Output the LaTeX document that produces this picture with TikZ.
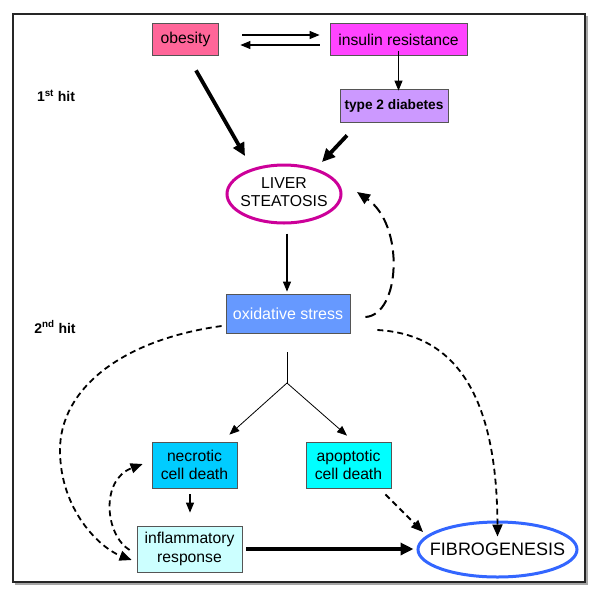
\documentclass[tikz,border=0pt]{standalone}
\usepackage{fontspec}
\setmainfont{Liberation Sans}
\usetikzlibrary{arrows.meta,shapes.geometric,calc}
\definecolor{obcol}{HTML}{FF6699}
\definecolor{incol}{HTML}{FF44FF}
\definecolor{t2col}{HTML}{CC99FF}
\definecolor{lvcol}{HTML}{CC0099}
\definecolor{oxcol}{HTML}{6699FF}
\definecolor{necol}{HTML}{00CCFF}
\definecolor{apcol}{HTML}{00FFFF}
\definecolor{imcol}{HTML}{CCFFFF}
\definecolor{fbcol}{HTML}{3366FF}
\definecolor{bordcol}{HTML}{555555}
\tikzset{
  box/.style={rectangle, draw=bordcol, line width=0.8pt, inner sep=0pt, align=center,
              font=\fontsize{15.7}{18.5}\selectfont},
  oval/.style={ellipse, line width=3pt, inner sep=0pt},
  thinarrow/.style={line width=1.1pt, -{Triangle[length=10pt,width=8pt]}},
  thickarrow/.style={line width=3.8pt, -{Triangle[length=13pt,width=12pt]}},
  dasharrow/.style={line width=1.8pt, dash pattern=on 6pt off 4pt, -{Triangle[length=12pt,width=10pt]}},
  longdash/.style={line width=2pt, dash pattern=on 11pt off 6pt, -{Triangle[length=13pt,width=11pt]}},
  hitlabel/.style={font=\bfseries\fontsize{14}{16}\selectfont, inner sep=0pt}
}
\begin{document}
\begin{tikzpicture}[x=1pt,y=-1pt]
\useasboundingbox (0,0) rectangle (600,590);
% frame
\draw[line width=2pt, black!35] (15,583.5) -- (587,583.5) -- (587,16);
\draw[line width=1.4pt, black!85] (13,14) rectangle (585,582);

% nodes
\node[box, fill=obcol, minimum width=66pt, minimum height=32pt] (obesity) at (185.5,39.5) {obesity};
\node[box, fill=incol, minimum width=137pt, minimum height=32pt] (insulin) at (398.5,39.5) {insulin resistance};
\node[box, fill=t2col, minimum width=108pt, minimum height=33pt, font=\bfseries\fontsize{13.7}{16}\selectfont] (type2) at (394,105.5) {type 2 diabetes};
\node[oval, draw=lvcol, minimum width=114pt, minimum height=58pt, font=\fontsize{15.8}{18.5}\selectfont] (liver) at (284,194)
  {\makebox[0pt][c]{\begin{tabular}{@{}c@{}}LIVER\\STEATOSIS\end{tabular}}};
\node[box, fill=oxcol, text=white, minimum width=124pt, minimum height=39pt, font=\fontsize{16}{19}\selectfont] (oxid) at (288,313.5) {oxidative stress};
\node[box, fill=necol, minimum width=85pt, minimum height=46pt] (necrotic) at (194.5,465) {necrotic\\cell death};
\node[box, fill=apcol, minimum width=85pt, minimum height=46pt] (apoptotic) at (348.5,465) {apoptotic\\cell death};
\node[box, fill=imcol, minimum width=105pt, minimum height=46pt] (inflam) at (189.5,549) {inflammatory\\response};
\node[oval, draw=fbcol, minimum width=159pt, minimum height=55pt, font=\fontsize{18}{20}\selectfont] (fibro) at (497.5,549.5)
  {\makebox[0pt][c]{FIBROGENESIS}};

\node[hitlabel] (hit1) at (56,96) {1\textsuperscript{st} hit};
\node[hitlabel] (hit2) at (55,327) {2\textsuperscript{nd} hit};

% connectors, top
\draw[thinarrow] ([shift={(23.5,-4.5)}]obesity.east) -- ([shift={(-10,-4.5)}]insulin.west);
\draw[thinarrow] ([shift={(-10,5.5)}]insulin.west) -- ([shift={(21.5,5.5)}]obesity.east);
\draw[thinarrow] ([yshift=5pt]insulin.south) -- ([yshift=-2pt]insulin.south |- type2.north);
\draw[thickarrow] ([shift={(10.5,14.5)}]obesity.south) -- ([shift={(-39,-38)}]liver.center);
\draw[thickarrow] ([shift={(-47,13)}]type2.south) -- ([shift={(38,-32)}]liver.center);
\draw[thinarrow] ([shift={(3,9)}]liver.south) -- ([shift={(-1,-2)}]oxid.north);

% feedback to liver
\draw[longdash] ([shift={(15,3.5)}]oxid.east) .. controls ([shift={(50,1.5)}]oxid.east) and ([shift={(121,31)}]liver.center) .. ([shift={(73,-2)}]liver.center);

% oxid -> inflam
\draw[dasharrow] ([shift={(-4,12.5)}]oxid.west) .. controls (120,340) and (60,390) .. (60,450)
   .. controls (60,510) and (100,548) .. ([shift={(-5,11)}]inflam.west);

% branch
\coordinate (branch) at (287,383);
\draw[line width=0.8pt] ([shift={(-1,19)}]oxid.south) -- (branch);
\draw[line width=0.8pt, -{Triangle[length=10pt,width=8pt]}] (branch) -- ([shift={(-8,-7)}]necrotic.north east);
\draw[line width=0.8pt, -{Triangle[length=10pt,width=8pt]}] (branch) -- ([shift={(-1.5,-6)}]apoptotic.north);

% lower
\draw[thinarrow] ([shift={(-4.5,6)}]necrotic.south) -- ([shift={(0.5,-13)}]inflam.north);
\draw[dasharrow] ([shift={(-7,1)}]inflam.west) .. controls (105,535) and (100,480) .. ([shift={(-9,-1)}]necrotic.west);
\draw[thickarrow, shorten <=4pt, shorten >=3pt] (inflam.east) -- (inflam.east -| fibro.west);
\draw[dasharrow] ([shift={(-6,6)}]apoptotic.south east) -- ([shift={(-74.5,-17.5)}]fibro.center);
\draw[dasharrow] ([shift={(27,16.5)}]oxid.east) .. controls (470,335) and (497,420) .. ([yshift=-16pt]fibro.north);
\end{tikzpicture}
\end{document}
